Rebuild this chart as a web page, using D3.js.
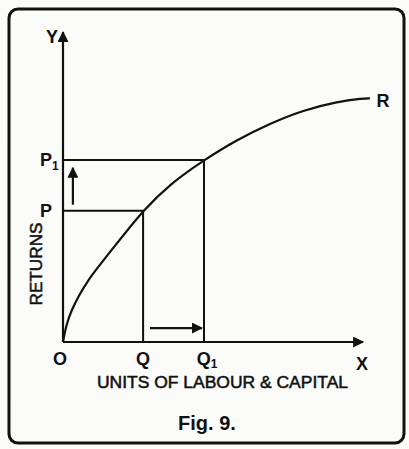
<!DOCTYPE html>
<html>
<head>
<meta charset="utf-8">
<script src="https://cdn.jsdelivr.net/npm/d3@7"></script>
<style>
  body { margin: 0; background: #fbfbf9; }
  text { font-family: "Liberation Sans", Arial, sans-serif; font-weight: bold; fill: #111; }
</style>
</head>
<body>
<div id="plot"></div>
<script>
// returns curve (units of input vs returns)
const curveX = [0, 1.2, 2.9, 5.1, 8.4, 11.8, 16.2, 20.7, 26.7, 35.7, 47, 57.9, 69, 80.1, 91.2, 100.1, 102.3];
const curveY = [0, 6.0, 10.3, 14.7, 20.0, 24.3, 29.7, 35.1, 42.3, 51.0, 58.7, 65.2, 70.5, 74.8, 77.5, 78.6, 78.6];

// the two marked points
const qLevels = [26.7, 47];     // Q, Q1
const pLevels = [42.3, 58.7];   // P, P1
const qLabels = ["Q", "Q"];
const pLabels = ["P", "P"];
const subs = ["", "1"];

const W = 409, H = 449;
const svg = d3.select("#plot").append("svg")
  .attr("width", W).attr("height", H);

// outer frame
svg.append("rect")
  .attr("x", 9).attr("y", 9)
  .attr("width", 395).attr("height", 434)
  .attr("rx", 9)
  .attr("fill", "none").attr("stroke", "#111").attr("stroke-width", 3);

// scales: x 0..100 -> 63..363, y 0..100 -> 342..32
const x = d3.scaleLinear().domain([0, 100]).range([63, 363]);
const y = d3.scaleLinear().domain([0, 100]).range([342, 32]);

// arrowhead marker
svg.append("defs").append("marker")
  .attr("id", "arr")
  .attr("viewBox", "0 0 10 10")
  .attr("refX", 9).attr("refY", 5)
  .attr("markerWidth", 5.5).attr("markerHeight", 5)
  .attr("markerUnits", "strokeWidth")
  .attr("orient", "auto")
  .append("path").attr("d", "M0,0 L10,5 L0,10 z").attr("fill", "#111");

const ink = "#111";

// axes
svg.append("line")
  .attr("x1", x(0)).attr("y1", y(0)).attr("x2", x(0)).attr("y2", y(100))
  .attr("stroke", ink).attr("stroke-width", 2.2).attr("marker-end", "url(#arr)");
svg.append("line")
  .attr("x1", x(0)).attr("y1", y(0)).attr("x2", x(100)).attr("y2", y(0))
  .attr("stroke", ink).attr("stroke-width", 2.2).attr("marker-end", "url(#arr)");

// guide lines to P,Q and P1,Q1
qLevels.forEach((q, i) => {
  const p = pLevels[i];
  svg.append("polyline")
    .attr("points", [[x(0), y(p)], [x(q), y(p)], [x(q), y(0)]].join(" "))
    .attr("fill", "none").attr("stroke", ink).attr("stroke-width", 2);
});

// returns curve
const pts = curveX.map((d, i) => [d, curveY[i]]);
const line = d3.line()
  .x(d => x(d[0])).y(d => y(d[1]))
  .curve(d3.curveBasis);
svg.append("path")
  .datum(pts)
  .attr("d", line)
  .attr("fill", "none").attr("stroke", ink).attr("stroke-width", 2.2);

// small arrows showing the increase
svg.append("line")
  .attr("x1", x(3.3)).attr("y1", y(pLevels[0] + 2))
  .attr("x2", x(3.3)).attr("y2", y(pLevels[1] - 2.5))
  .attr("stroke", ink).attr("stroke-width", 2.2).attr("marker-end", "url(#arr)");
svg.append("line")
  .attr("x1", x(qLevels[0] + 2.3)).attr("y1", y(4.5))
  .attr("x2", x(qLevels[1] - 0.7)).attr("y2", y(4.5))
  .attr("stroke", ink).attr("stroke-width", 2.2).attr("marker-end", "url(#arr)");

// letter labels
const lab = (tx, ty, t, size, anchor) =>
  svg.append("text").attr("x", tx).attr("y", ty)
    .attr("text-anchor", anchor || "middle")
    .style("font-size", size + "px").text(t);

lab(52, 43, "Y", 18);
lab(383, 107, "R", 18);
lab(60, 365, "O", 18);
lab(362, 370, "X", 18);

qLevels.forEach((q, i) => {
  const t = lab(x(q) + (subs[i] ? 3 : 0), 365, qLabels[i], 18);
  if (subs[i]) t.append("tspan").attr("dy", 3).style("font-size", "12px").text(subs[i]);
});
pLevels.forEach((p, i) => {
  const t = lab(40, y(p) + 6, pLabels[i], 18, "start");
  if (subs[i]) t.append("tspan").attr("dy", 4).style("font-size", "12px").text(subs[i]);
});

// axis titles
svg.append("text")
  .attr("transform", "translate(42,264) rotate(-90)")
  .attr("text-anchor", "middle")
  .attr("textLength", 83).attr("lengthAdjust", "spacingAndGlyphs")
  .style("font-size", "17px").style("font-weight", "normal")
  .style("stroke", "#111").style("stroke-width", 0.5)
  .text("RETURNS");

svg.append("text")
  .attr("x", 97).attr("y", 388)
  .attr("textLength", 251).attr("lengthAdjust", "spacingAndGlyphs")
  .style("font-size", "16px").style("font-weight", "normal")
  .style("stroke", "#111").style("stroke-width", 0.5)
  .text("UNITS OF LABOUR & CAPITAL");

lab(207, 430, "Fig.  9.", 20);
</script>
</body>
</html>
